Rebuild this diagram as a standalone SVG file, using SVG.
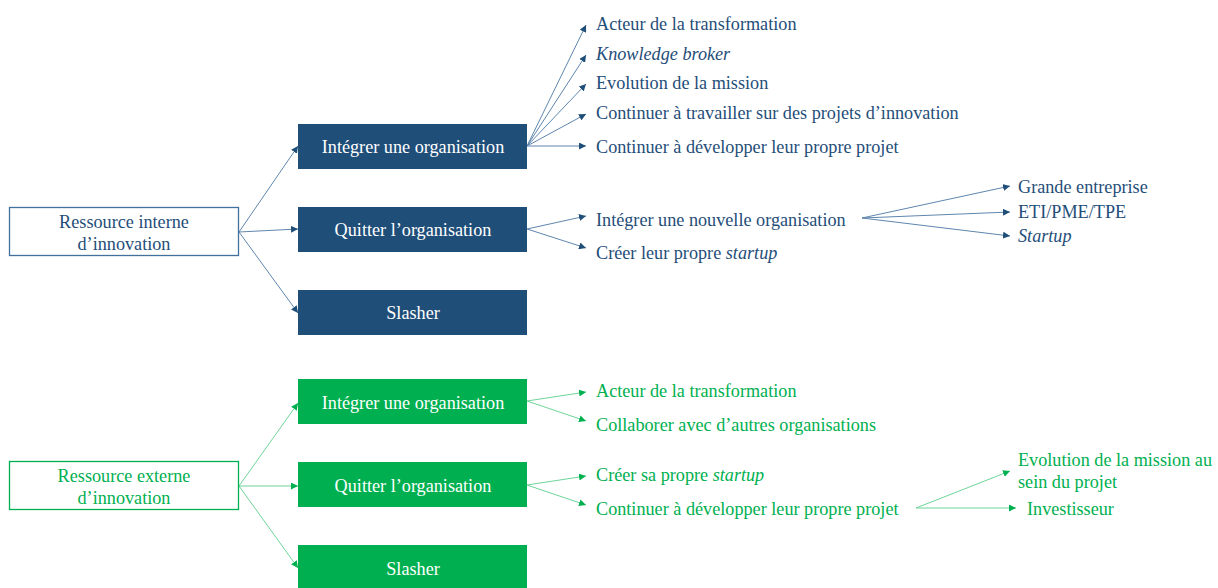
<svg xmlns="http://www.w3.org/2000/svg" width="1218" height="588" viewBox="0 0 1218 588">
<style>
text{font-family:"Liberation Serif","Times New Roman",serif;font-size:18.2px}
.bt{fill:#1F4E79}
.gt{fill:#00B050}
.wt{fill:#ffffff;text-anchor:middle}
.ct{text-anchor:middle}
.bbox{fill:#1F4E79}
.gbox{fill:#00B050}
.bsrc{fill:#fff;stroke:#41719C;stroke-width:1.3}
.gsrc{fill:#fff;stroke:#00B050;stroke-width:1.3}
.bl{stroke:#5F86AE;stroke-width:1;fill:none;marker-end:url(#ab)}
.gl{stroke:#6FD49A;stroke-width:1;fill:none;marker-end:url(#ag)}
.it{font-style:italic}
</style>
<defs>
<marker id="ab" viewBox="0 0 10 10" refX="10" refY="5" markerWidth="7" markerHeight="7" markerUnits="userSpaceOnUse" orient="auto"><path d="M0,0 L10,5 L0,10 z" fill="#1F4E79"/></marker>
<marker id="ag" viewBox="0 0 10 10" refX="10" refY="5" markerWidth="7" markerHeight="7" markerUnits="userSpaceOnUse" orient="auto"><path d="M0,0 L10,5 L0,10 z" fill="#00B050"/></marker>
</defs>
<g id="connectors">
<path class="bl" d="M239,232 L298,146"/>
<path class="bl" d="M239,232 L298,229"/>
<path class="bl" d="M239,232 L298,313"/>
<path class="bl" d="M527,146 L586,25"/>
<path class="bl" d="M527,146 L586,55"/>
<path class="bl" d="M527,146 L586,84"/>
<path class="bl" d="M527,146 L586,114"/>
<path class="bl" d="M527,146 L586,146"/>
<path class="bl" d="M527,229 L586,216"/>
<path class="bl" d="M527,229 L586,248"/>
<path class="bl" d="M862,218 L1010,186"/>
<path class="bl" d="M862,218 L1010,212"/>
<path class="bl" d="M862,218 L1010,236"/>
<path class="gl" d="M239,486 L298,403"/>
<path class="gl" d="M239,486 L298,486"/>
<path class="gl" d="M239,486 L298,568"/>
<path class="gl" d="M527,401 L586,392"/>
<path class="gl" d="M527,401 L586,421"/>
<path class="gl" d="M527,485 L586,476"/>
<path class="gl" d="M527,485 L586,505"/>
<path class="gl" d="M916,508 L1010,471"/>
<path class="gl" d="M916,508 L1016,508"/>
</g>
<g id="src-interne">
<rect class="bsrc" x="9.5" y="207.5" width="229" height="48"/>
<text class="bt ct" x="124" y="228">Ressource interne</text>
<text class="bt ct" x="124" y="250">d’innovation</text>
</g>
<g id="b-integrer">
<rect class="bbox" x="298" y="124" width="229" height="45"/>
<text class="wt" x="413" y="153">Intégrer une organisation</text>
</g>
<g id="b-quitter">
<rect class="bbox" x="298" y="207" width="229" height="45"/>
<text class="wt" x="413" y="236">Quitter l’organisation</text>
</g>
<g id="b-slasher">
<rect class="bbox" x="298" y="290" width="229" height="45"/>
<text class="wt" x="413" y="319">Slasher</text>
</g>
<g id="b-leaves">
<text class="bt" x="596" y="30">Acteur de la transformation</text>
<text class="bt it" x="596" y="60">Knowledge broker</text>
<text class="bt" x="596" y="89">Evolution de la mission</text>
<text class="bt" x="596" y="119">Continuer à travailler sur des projets d’innovation</text>
<text class="bt" x="596" y="153">Continuer à développer leur propre projet</text>
<text class="bt" x="596" y="226">Intégrer une nouvelle organisation</text>
<text class="bt" x="596" y="259">Créer leur propre <tspan class="it">startup</tspan></text>
<text class="bt" x="1018" y="193">Grande entreprise</text>
<text class="bt" x="1018" y="218">ETI/PME/TPE</text>
<text class="bt it" x="1018" y="242">Startup</text>
</g>
<g id="src-externe">
<rect class="gsrc" x="9.5" y="461.5" width="229" height="48"/>
<text class="gt ct" x="124" y="482">Ressource externe</text>
<text class="gt ct" x="124" y="504">d’innovation</text>
</g>
<g id="g-integrer">
<rect class="gbox" x="298" y="379" width="229" height="45"/>
<text class="wt" x="413" y="409">Intégrer une organisation</text>
</g>
<g id="g-quitter">
<rect class="gbox" x="298" y="462" width="229" height="45"/>
<text class="wt" x="413" y="492">Quitter l’organisation</text>
</g>
<g id="g-slasher">
<rect class="gbox" x="298" y="545" width="229" height="45"/>
<text class="wt" x="413" y="575">Slasher</text>
</g>
<g id="g-leaves">
<text class="gt" x="596" y="397">Acteur de la transformation</text>
<text class="gt" x="596" y="431">Collaborer avec d’autres organisations</text>
<text class="gt" x="596" y="481">Créer sa propre <tspan class="it">startup</tspan></text>
<text class="gt" x="596" y="515">Continuer à développer leur propre projet</text>
<text class="gt" x="1018" y="466">Evolution de la mission au</text>
<text class="gt" x="1018" y="488">sein du projet</text>
<text class="gt" x="1027" y="515">Investisseur</text>
</g>
</svg>
